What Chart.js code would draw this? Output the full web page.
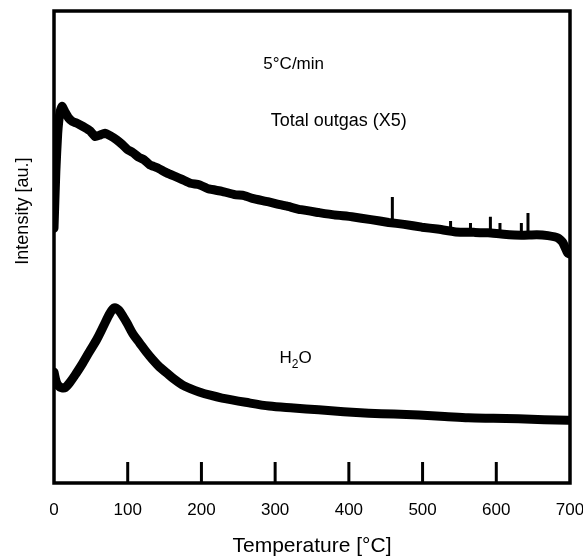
<!DOCTYPE html>
<html>
<head>
<meta charset="utf-8">
<script src="https://cdn.jsdelivr.net/npm/chart.js@4.4.0/dist/chart.umd.min.js"></script>
<style>
  html, body { margin: 0; padding: 0; background: #fff; }
</style>
</head>
<body>
<canvas id="tpdChart" width="583" height="560"></canvas>
<script>
// Total outgas (x5) trace, temperature in °C, intensity in arbitrary units
const outgasTemps = [0, 2.5, 5, 8, 11, 15, 20, 25, 30, 35, 42, 49, 56, 62, 69, 76, 85, 92, 100,
  107, 115, 122, 130, 140, 153, 165, 174, 185, 197, 210, 228, 245, 258, 269, 290, 303, 315, 335,
  359, 380, 404, 430, 454, 475, 499, 520, 545, 570, 589, 610, 634, 655, 670, 684, 690, 697, 700];
const outgasValues = [54, 66, 74, 78.5, 79.8, 78.6, 77.3, 76.6, 76.3, 75.9, 75.3, 74.6, 73.4, 73.7,
  74.1, 73.6, 72.7, 71.8, 70.6, 70.0, 69.0, 68.5, 67.4, 66.8, 65.7, 64.9, 64.3, 63.5, 63.2,
  62.3, 61.8, 61.1, 60.9, 60.3, 59.6, 59.1, 58.7, 57.9, 57.3, 56.8, 56.4, 55.8, 55.2, 54.8, 54.2,
  53.8, 53.2, 53.1, 53.0, 52.7, 52.5, 52.6, 52.4, 51.9, 51.0, 48.7, 48.5];

// narrow spikes on the outgas trace
const spikeTemps = [459, 538, 565, 592, 605, 634, 643];
const spikeBases = [55.2, 53.4, 53.1, 53.0, 52.8, 52.5, 52.5];
const spikeTops = [60.6, 55.5, 55.1, 56.4, 55.1, 55.1, 57.2];

// H2O trace
const h2oTemps = [0, 3, 6, 10, 15, 22, 30, 39, 48, 58, 67, 76, 82, 88, 94, 99, 107, 116, 125, 134,
  143, 153, 163, 174, 185, 197, 212, 228, 260, 292, 325, 359, 393, 427, 461, 495, 530, 562, 596,
  630, 665, 697, 700];
const h2oValues = [23.5, 21.5, 20.6, 20.2, 20.2, 21.4, 23.2, 25.4, 27.8, 30.4, 33.2, 36.0, 37.1,
  36.6, 35.2, 33.9, 31.6, 29.7, 27.8, 26.1, 24.6, 23.3, 22.0, 20.8, 20.0, 19.3, 18.6, 18.0, 17.1,
  16.3, 15.9, 15.5, 15.1, 14.8, 14.6, 14.4, 14.1, 13.8, 13.7, 13.6, 13.4, 13.3, 13.3];

const fontFamily = '"Liberation Sans", Arial, Helvetica, sans-serif';

const toPoints = (xs, ys) => xs.map((x, i) => ({ x: x, y: ys[i] }));

// each spike is a short vertical segment, gaps (y: null) keep them apart
const spikePoints = [];
spikeTemps.forEach((t, i) => {
  spikePoints.push({ x: t, y: spikeBases[i] }, { x: t, y: spikeTops[i] }, { x: t, y: null });
});

// box, inward ticks and text labels
const framePlugin = {
  id: 'frame',
  afterDatasetsDraw(chart) {
    const { ctx, chartArea: a, scales: { x, y } } = chart;
    ctx.save();
    ctx.strokeStyle = '#000';
    ctx.lineWidth = 3.5;
    ctx.strokeRect(a.left, a.top, a.right - a.left, a.bottom - a.top);

    ctx.lineWidth = 3;
    x.ticks.forEach(t => {
      if (t.value <= x.min || t.value >= x.max) return;
      const px = x.getPixelForValue(t.value);
      ctx.beginPath();
      ctx.moveTo(px, a.bottom);
      ctx.lineTo(px, a.bottom - 21);
      ctx.stroke();
    });

    ctx.fillStyle = '#000';
    ctx.textAlign = 'left';
    ctx.textBaseline = 'alphabetic';
    ctx.font = '17px ' + fontFamily;
    ctx.fillText('5°C/min', x.getPixelForValue(284), y.getPixelForValue(87.7));
    ctx.font = '18px ' + fontFamily;
    ctx.fillText('Total outgas (X5)', x.getPixelForValue(294), y.getPixelForValue(75.6));

    // H2O with subscript
    let hx = x.getPixelForValue(306);
    const hy = y.getPixelForValue(25.4);
    ctx.font = '17px ' + fontFamily;
    ctx.fillText('H', hx, hy);
    hx += ctx.measureText('H').width;
    ctx.font = '12px ' + fontFamily;
    ctx.fillText('2', hx, hy + 5);
    hx += ctx.measureText('2').width;
    ctx.font = '17px ' + fontFamily;
    ctx.fillText('O', hx, hy);

    // y axis title
    ctx.translate(28, y.getPixelForValue(57.6));
    ctx.rotate(-Math.PI / 2);
    ctx.textAlign = 'center';
    ctx.font = '18px ' + fontFamily;
    ctx.fillText('Intensity [au.]', 0, 0);
    ctx.restore();
  }
};

new Chart(document.getElementById('tpdChart'), {
  type: 'line',
  data: {
    datasets: [
      {
        label: 'Total outgas (X5)',
        data: toPoints(outgasTemps, outgasValues),
        borderColor: '#000',
        borderWidth: 9,
        borderJoinStyle: 'round',
        borderCapStyle: 'round',
        pointRadius: 0,
        tension: 0.15
      },
      {
        label: 'spikes',
        data: spikePoints,
        borderColor: '#000',
        borderWidth: 3,
        pointRadius: 0,
        spanGaps: false
      },
      {
        label: 'H2O',
        data: toPoints(h2oTemps, h2oValues),
        borderColor: '#000',
        borderWidth: 9,
        borderJoinStyle: 'round',
        borderCapStyle: 'round',
        pointRadius: 0,
        tension: 0.3
      }
    ]
  },
  options: {
    responsive: false,
    animation: false,
    layout: { padding: { left: 54, top: 11, right: 13, bottom: 0 } },
    plugins: {
      legend: { display: false },
      tooltip: { enabled: false }
    },
    scales: {
      x: {
        type: 'linear',
        min: 0,
        max: 700,
        ticks: {
          stepSize: 100,
          color: '#000',
          padding: 17,
          maxRotation: 0,
          font: { size: 17, family: fontFamily }
        },
        grid: { display: false, drawTicks: false, tickLength: 0 },
        border: { display: false },
        title: {
          display: true,
          text: 'Temperature [°C]',
          color: '#000',
          font: { size: 21, family: fontFamily },
          padding: { top: 0, bottom: 1 }
        },
        afterFit(scale) {
          scale.height = 77;
          scale.paddingLeft = 0;
          scale.paddingRight = 0;
        }
      },
      y: {
        display: false,
        min: 0,
        max: 100
      }
    }
  },
  plugins: [framePlugin]
});
</script>
</body>
</html>
